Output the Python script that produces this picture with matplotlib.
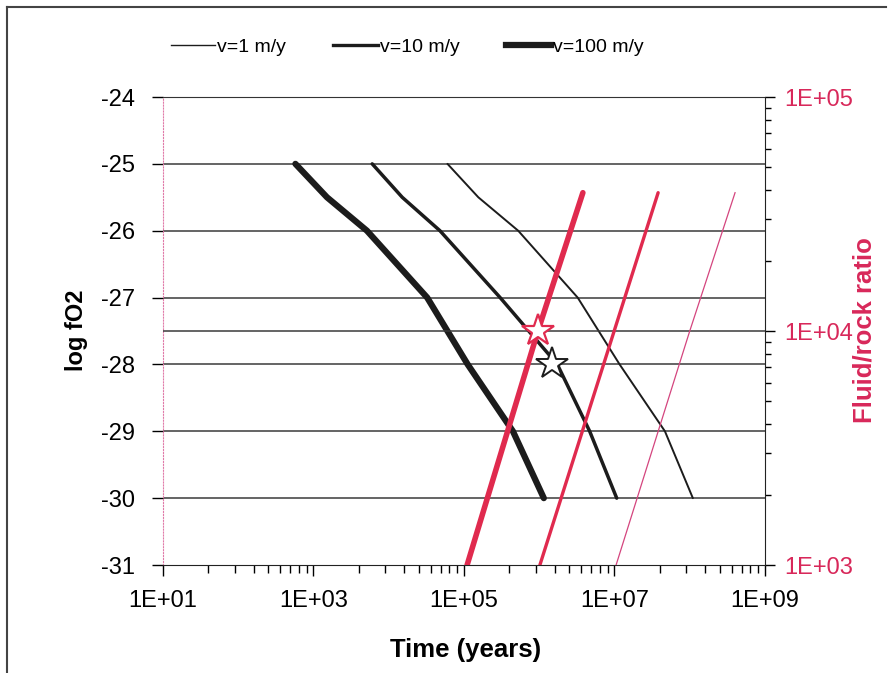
import numpy as np
import matplotlib.pyplot as plt
from matplotlib.lines import Line2D
from matplotlib.ticker import FixedLocator, FuncFormatter, NullFormatter

plt.rcParams['font.family'] = ['Liberation Sans', 'DejaVu Sans']
plt.rcParams['font.size'] = 17
plt.rcParams['axes.unicode_minus'] = False

# log fO2 steps shared by the three velocity curves
log_fo2 = [-25, -25.5, -26, -27, -28, -29, -30]
time_v100 = [575, 1510, 5130, 32400, 112000, 447000, 1150000]
time_v10 = [6030, 15100, 47900, 302000, 1740000, 4680000, 10700000]
time_v1 = [60300, 155000, 525000, 3240000, 11700000, 46800000, 110000000]

# fluid/rock ratio vs time (right axis)
ratio = [1000, 10000, 39000]
ratio_t100 = [110000, 960000, 3800000]
ratio_t10 = [1020000, 9900000, 38000000]
ratio_t1 = [10500000, 100000000, 400000000]

star_red = (960000, 10000)
star_black = (1480000, -28)

black = '#1c1c1c'
red = '#e02a4e'
pink = '#d4457e'
txt_red = '#d8285a'

fig = plt.figure(figsize=(8.94, 6.73), dpi=100)
ax = fig.add_axes([163/894, 1-565/673, (765-163)/894, (565-97)/673])
ax.set_xscale('log')
ax.set_xlim(10, 1e9)
ax.set_ylim(-31, -24)

ax.plot(time_v1, log_fo2, color=black, lw=1.4, solid_capstyle='round', zorder=3)
ax.plot(time_v10, log_fo2, color=black, lw=2.5, solid_capstyle='round', zorder=3)
ax.plot(time_v100, log_fo2, color=black, lw=4.5, solid_capstyle='round', zorder=3)

# x ticks: Excel style base-100 log axis
majors = [10.0**e for e in range(1, 10, 2)]
minors = [m * k * k for m in majors[:-1] for k in range(2, 10)]
ax.xaxis.set_major_locator(FixedLocator(majors))
ax.xaxis.set_minor_locator(FixedLocator(minors))
ax.xaxis.set_major_formatter(FuncFormatter(lambda v, p: '1E+%02d' % int(round(np.log10(v)))))
ax.xaxis.set_minor_formatter(NullFormatter())
ax.tick_params(axis='x', which='major', direction='out', length=8, width=1, pad=10)
ax.tick_params(axis='x', which='minor', direction='out', length=6, width=1)

ax.set_yticks(range(-31, -23))
ax.tick_params(axis='y', direction='out', length=8, width=1, pad=12)
ax.yaxis.grid(True, color='#3a3a3a', lw=1.1)
gls = ax.get_ygridlines()
gls[0].set_visible(False)
gls[-1].set_visible(False)

ax.spines['left'].set_color('#e07aa8')
ax.spines['left'].set_linestyle(':')
ax.spines['top'].set_color('#333333')
ax.spines['top'].set_linestyle((0, (2, 1)))
ax.spines['bottom'].set_color('#222222')
ax.spines['right'].set_visible(False)

ax2 = ax.twinx()
ax2.set_yscale('log')
ax2.set_ylim(1e3, 1e5)
ax2.plot(ratio_t1, ratio, color=pink, lw=0.9)
ax2.plot(ratio_t10, ratio, color=red, lw=2.4, solid_capstyle='round')
ax2.plot(ratio_t100, ratio, color=red, lw=4.0, solid_capstyle='round')
ax2.yaxis.set_major_locator(FixedLocator([1e3, 1e4, 1e5]))
ax2.yaxis.set_major_formatter(FuncFormatter(lambda v, p: '1E+%02d' % int(round(np.log10(v)))))
ax2.tick_params(axis='y', which='major', direction='out', length=7, width=1, pad=7, labelcolor=txt_red)
ax2.tick_params(axis='y', which='minor', direction='out', length=4, width=1)
ax2.yaxis.grid(True, which='major', color='#3a3a3a', lw=1.1)
gl2 = ax2.get_ygridlines()
gl2[0].set_visible(False)
gl2[-1].set_visible(False)
for s in ['left', 'top', 'bottom']:
    ax2.spines[s].set_visible(False)
ax2.spines['right'].set_color('#222222')

ax2.plot(*star_red, marker='*', ms=24, mfc='white', mec=red, mew=1.6, zorder=6)
ax.plot(*star_black, marker='*', ms=24, mfc='white', mec=black, mew=1.4, zorder=6)
ax.set_zorder(1)
ax2.set_zorder(2)
ax.patch.set_visible(False)

fig.text(76/894, 1-330/673, 'log fO2', rotation=90, ha='center', va='center', fontweight='bold', fontsize=17)
fig.text(864/894, 1-330/673, 'Fluid/rock ratio', rotation=90, ha='center', va='center',
         fontweight='bold', fontsize=18.5, color=txt_red)
fig.text(466/894, 1-650/673, 'Time (years)', ha='center', va='center', fontweight='bold', fontsize=18.5)

handles = [Line2D([], [], color=black, lw=1.0),
           Line2D([], [], color=black, lw=2.4),
           Line2D([], [], color=black, lw=4.5)]
fig.legend(handles, ['v=1 m/y', 'v=10 m/y', 'v=100 m/y'], loc='center',
           bbox_to_anchor=(407/894, 1-47/673), ncol=3, frameon=False,
           handlelength=2.3, handletextpad=0.1, columnspacing=2.4, fontsize=14)

# outer frame of the figure
fig.add_artist(Line2D([7/894, 7/894], [0, 1-7/673], color='#444444', lw=1.5))
fig.add_artist(Line2D([7/894, 886/894], [1-7/673, 1-7/673], color='#444444', lw=1.5))

fig.savefig('out.png', dpi=100)
